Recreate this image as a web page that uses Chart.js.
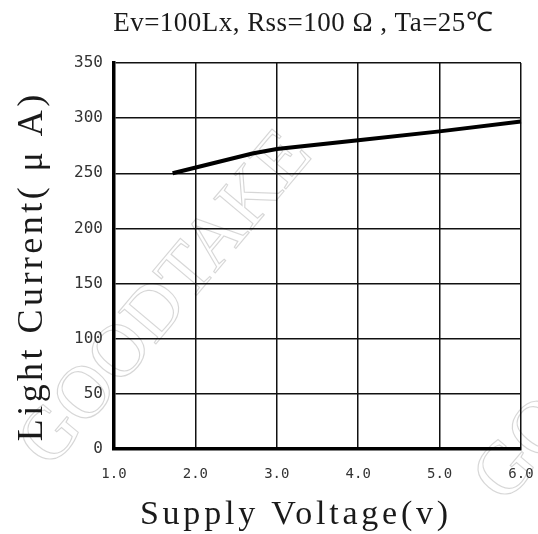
<!DOCTYPE html>
<html>
<head>
<meta charset="utf-8">
<script src="https://cdn.jsdelivr.net/npm/chart.js@4/dist/chart.umd.min.js"></script>
<style>
  html, body { margin: 0; padding: 0; background: #fff; }
  #wrap { width: 538px; height: 534px; }
</style>
</head>
<body>
<div id="wrap"><canvas id="lightCurrent"></canvas></div>
<script>
//
// Data
var voltage = [1.72, 2.7, 3.0, 4.0, 5.0, 6.0];
var current = [250, 268, 272, 280, 288, 297];
var xTicks = [1.0, 2.0, 3.0, 4.0, 5.0, 6.0];
var yTicks = [0, 50, 100, 150, 200, 250, 300, 350];
var chartTitle = 'Ev=100Lx, Rss=100 Ω , Ta=25℃';
var xTitle = 'Supply Voltage(v)';
var yTitle = 'Light Current( μ A)';

var points = voltage.map(function(v, i) { return { x: v, y: current[i] }; });

//
// text stretched to a given width (the original uses a wide CJK face)
function spreadText(c, text, x, y, width) {
    c.letterSpacing = '0px';
    var w = c.measureText(text).width;
    var n = Array.from(text).length;
    var ls = (width - w) / n;
    c.letterSpacing = ls + 'px';
    c.textAlign = 'left';
    c.fillText(text, x - width / 2 + ls / 2, y);
    c.letterSpacing = '0px';
}

function watermark(c, x, y) {
    c.save();
    c.strokeStyle = 'rgba(0,0,0,0.16)';
    c.lineWidth = 1.2;
    c.font = '75px "Liberation Serif"';
    c.translate(x, y);
    c.rotate(-50 * Math.PI / 180);
    c.strokeText('GOODTAKE', 0, 0);
    c.restore();
}

//
// Titles and watermark
var extras = {
    id: 'extras',
    beforeDatasetsDraw: function(chart) {
        var c = chart.ctx;
        watermark(c, 50, 470);
        watermark(c, 505, 505);
    },
    afterDraw: function(chart) {
        var c = chart.ctx;
        c.save();
        c.fillStyle = '#1a1a1a';
        c.textBaseline = 'alphabetic';

        c.font = '27px "Liberation Serif"';
        spreadText(c, chartTitle, 303, 31, 380);

        c.font = '34px "Liberation Serif"';
        spreadText(c, xTitle, 294, 524, 312);

        c.translate(42, 268);
        c.rotate(-Math.PI / 2);
        c.font = '36px "Liberation Serif"';
        spreadText(c, yTitle, 0, 0, 350);
        c.restore();
    }
};

var ctx = document.getElementById('lightCurrent').getContext('2d');
new Chart(ctx, {
    type: 'scatter',
    data: {
        datasets: [{
            data: points,
            showLine: true,
            borderColor: '#000',
            borderWidth: 4,
            pointRadius: 0,
            tension: 0,
            clip: false
        }]
    },
    options: {
        responsive: true,
        maintainAspectRatio: false,
        animation: false,
        layout: { padding: { top: 63, right: 17, left: 0, bottom: 0 } },
        plugins: {
            legend: { display: false },
            tooltip: { enabled: false }
        },
        scales: {
            x: {
                type: 'linear',
                min: 1, max: 6,
                afterBuildTicks: function(scale) {
                    scale.ticks = xTicks.map(function(v) { return { value: v }; });
                },
                afterFit: function(scale) {
                    scale.height = 85;
                    scale.paddingLeft = 0;
                    scale.paddingRight = 0;
                },
                grid: { color: '#111', lineWidth: 1.5, drawTicks: false },
                border: { color: '#000', width: 3.5 },
                ticks: {
                    color: '#333',
                    padding: 17,
                    font: { family: '"DejaVu Sans Mono"', size: 14 },
                    callback: function(v) { return v.toFixed(1); }
                }
            },
            y: {
                min: 0, max: 350,
                afterBuildTicks: function(scale) {
                    scale.ticks = yTicks.map(function(v) { return { value: v }; });
                },
                afterFit: function(scale) {
                    scale.width = 114;
                    scale.paddingTop = 0;
                    scale.paddingBottom = 0;
                },
                grid: { color: '#111', lineWidth: 1.5, drawTicks: false },
                border: { color: '#000', width: 3.5 },
                ticks: {
                    color: '#333',
                    padding: 11,
                    font: { family: '"DejaVu Sans Mono"', size: 16 }
                }
            }
        }
    },
    plugins: [extras]
});
</script>
</body>
</html>
